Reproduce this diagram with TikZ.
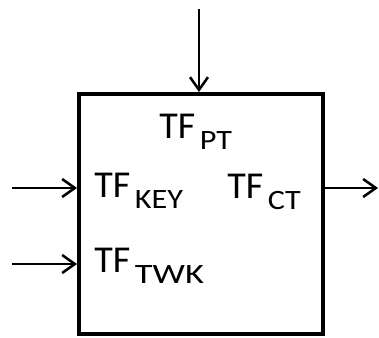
\documentclass[tikz,border=0pt]{standalone}
\usepackage{fontspec}
\setmainfont{Carlito}
\usetikzlibrary{arrows.meta}
\newcommand{\tfsub}[2][1.15]{{\fontsize{28.5}{28.5}\selectfont TF}\hspace{3.5pt}\raisebox{-8.5pt}{\scalebox{#1}[1]{\fontsize{21}{21}\selectfont #2}}}
\tikzset{
  blockbox/.style={draw=black, line width=3pt, minimum width=183pt, minimum height=180pt, inner sep=0pt},
  sig/.style={line width=1.9pt, -{Straight Barb[length=9.5pt,width=13.5pt,line width=1.9pt]}},
  lbl/.style={anchor=base west, inner sep=0pt, text=black}
}
\begin{document}
\begin{tikzpicture}[x=0.75pt,y=-0.75pt]
\useasboundingbox (0,0) rectangle (379,337);
\node[blockbox] (box) at (201,214) {};
\coordinate (topin) at (199,9);
\coordinate (in1) at (12,188);
\coordinate (in2) at (12,264);
\coordinate (out1) at (378,188);
\draw[sig] (topin) -- (topin |- box.north);
\draw[sig] (in1) -- (in1 -| box.west);
\draw[sig] (in2) -- (in2 -| box.west);
\draw[sig] (box.east |- out1) -- (out1);
\node[lbl] (tpt) at (159,138) {\tfsub{PT}};
\node[lbl] (tkey) at (94,197) {\tfsub{KEY}};
\node[lbl] (tct) at (227,198) {\tfsub{CT}};
\node[lbl] (ttwk) at (94,272) {\tfsub[1.3]{TWK}};
\end{tikzpicture}
\end{document}
